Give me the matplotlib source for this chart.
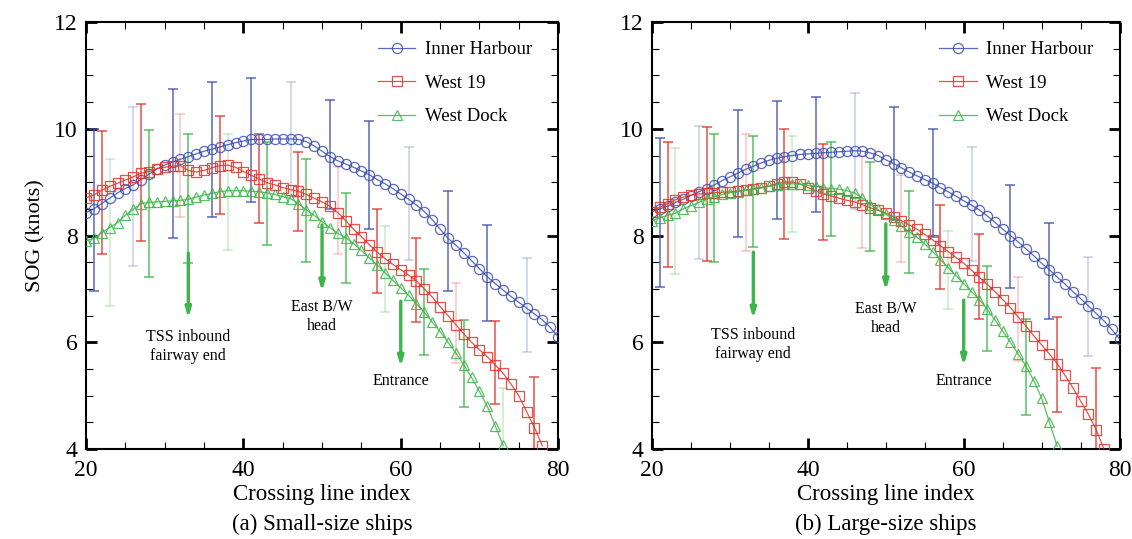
import matplotlib
matplotlib.use("Agg")
import matplotlib.pyplot as plt
from matplotlib.ticker import MultipleLocator

plt.rcParams['font.family'] = ['Liberation Serif', 'DejaVu Serif']
plt.rcParams['mathtext.fontset'] = 'stix'

# ---------------- data ----------------
x_index = list(range(20, 81))

# (a) Small-size ships
small_inner = [8.43, 8.5, 8.6, 8.7, 8.8, 8.88, 8.95, 9.05, 9.15, 9.25, 9.32, 9.38, 9.43, 9.48, 9.53,
               9.58, 9.62, 9.66, 9.7, 9.74, 9.77, 9.8, 9.8, 9.8, 9.81, 9.81, 9.81, 9.8, 9.76, 9.68,
               9.58, 9.48, 9.4, 9.34, 9.28, 9.21, 9.14, 9.05, 8.97, 8.88, 8.78, 8.68, 8.57, 8.45,
               8.3, 8.12, 7.95, 7.82, 7.68, 7.53, 7.38, 7.23, 7.1, 6.98, 6.86, 6.75, 6.64, 6.53,
               6.42, 6.28, 6.1]
small_west19 = [8.71, 8.76, 8.85, 8.92, 8.98, 9.04, 9.1, 9.17, 9.2, 9.25, 9.28, 9.3, 9.31, 9.22, 9.19,
                9.22, 9.27, 9.31, 9.32, 9.28, 9.2, 9.13, 9.06, 8.99, 8.95, 8.9, 8.86, 8.83, 8.77, 8.7,
                8.63, 8.55, 8.43, 8.28, 8.12, 7.98, 7.83, 7.69, 7.57, 7.46, 7.36, 7.26, 7.15, 7.0,
                6.85, 6.67, 6.5, 6.33, 6.16, 6.0, 5.86, 5.73, 5.58, 5.42, 5.22, 5.0, 4.7, 4.4, 4.06]
small_westdock = [7.9, 7.95, 8.05, 8.15, 8.24, 8.38, 8.49, 8.6, 8.62, 8.63, 8.64, 8.65, 8.66, 8.68,
                  8.72, 8.76, 8.79, 8.82, 8.84, 8.84, 8.84, 8.83, 8.82, 8.8, 8.77, 8.73, 8.69, 8.6,
                  8.48, 8.38, 8.26, 8.15, 8.04, 7.96, 7.85, 7.72, 7.58, 7.45, 7.3, 7.16, 7.02, 6.88,
                  6.72, 6.56, 6.38, 6.2, 6.0, 5.8, 5.58, 5.34, 5.08, 4.8, 4.44, 4.07]

# (b) Large-size ships
large_inner = [8.45, 8.5, 8.55, 8.62, 8.68, 8.75, 8.82, 8.88, 8.95, 9.03, 9.1, 9.17, 9.24, 9.3, 9.36,
               9.41, 9.45, 9.48, 9.5, 9.52, 9.53, 9.54, 9.55, 9.56, 9.57, 9.58, 9.59, 9.58, 9.55, 9.5,
               9.42, 9.35, 9.27, 9.19, 9.12, 9.05, 8.98, 8.9, 8.82, 8.74, 8.65, 8.57, 8.48, 8.37,
               8.25, 8.12, 8.0, 7.88, 7.75, 7.62, 7.48, 7.36, 7.22, 7.09, 6.95, 6.82, 6.68, 6.54,
               6.4, 6.24, 6.06]
large_west19 = [8.45, 8.53, 8.6, 8.67, 8.72, 8.76, 8.78, 8.79, 8.8, 8.81, 8.82, 8.83, 8.85, 8.87, 8.9,
                8.93, 8.97, 9.0, 9.0, 8.97, 8.9, 8.84, 8.78, 8.74, 8.7, 8.66, 8.63, 8.58, 8.52, 8.47,
                8.42, 8.35, 8.28, 8.2, 8.12, 8.02, 7.92, 7.81, 7.7, 7.59, 7.48, 7.35, 7.22, 7.09,
                6.95, 6.8, 6.65, 6.47, 6.3, 6.12, 5.95, 5.78, 5.6, 5.38, 5.15, 4.9, 4.65, 4.36, 4.0]
large_westdock = [8.28, 8.33, 8.38, 8.42, 8.5, 8.56, 8.62, 8.68, 8.73, 8.77, 8.8, 8.82, 8.85, 8.87,
                  8.89, 8.92, 8.95, 8.97, 8.97, 8.96, 8.94, 8.92, 8.9, 8.88, 8.87, 8.84, 8.8, 8.7,
                  8.58, 8.49, 8.4, 8.3, 8.18, 8.07, 7.97, 7.84, 7.7, 7.55, 7.4, 7.25, 7.1, 6.95,
                  6.8, 6.62, 6.42, 6.21, 6.0, 5.78, 5.55, 5.28, 4.95, 4.5, 4.05]

# error bars: positions, upper ends, lower ends, faint flags
small_inner_eb_x = [21, 26, 31, 36, 41, 46, 51, 56, 61, 66, 71, 76]
small_inner_eb_hi = [10.0, 10.41, 10.75, 10.88, 10.96, 10.88, 10.54, 10.14, 9.66, 8.84, 8.19, 7.57]
small_inner_eb_lo = [6.96, 7.43, 7.96, 8.34, 8.63, 8.72, 8.49, 8.13, 7.55, 6.96, 6.40, 5.81]
small_inner_eb_faint = [0, 1, 0, 0, 0, 1, 0, 0, 1, 0, 0, 1]

small_w19_eb_x = [22, 27, 32, 37, 42, 47, 52, 57, 62, 67, 72, 77]
small_w19_eb_hi = [9.96, 10.46, 10.27, 10.24, 9.91, 9.56, 9.28, 8.49, 7.96, 7.12, 6.40, 5.34]
small_w19_eb_lo = [7.65, 7.89, 8.34, 8.40, 8.23, 8.09, 7.65, 6.92, 6.38, 5.62, 4.84, 3.5]
small_w19_eb_faint = [0, 0, 1, 0, 0, 0, 1, 0, 0, 1, 0, 0]

small_wd_eb_x = [23, 28, 33, 38, 43, 48, 53, 58, 63, 68, 73]
small_wd_eb_hi = [9.43, 9.97, 9.90, 9.90, 9.75, 9.43, 8.79, 8.18, 7.37, 6.42, 5.14]
small_wd_eb_lo = [6.68, 7.22, 7.48, 7.73, 7.82, 7.51, 7.11, 6.57, 5.76, 4.78, 3.5]
small_wd_eb_faint = [1, 0, 0, 1, 0, 0, 0, 1, 0, 0, 1]

large_inner_eb_x = [21, 26, 31, 36, 41, 46, 51, 56, 61, 66, 71, 76]
large_inner_eb_hi = [9.83, 10.06, 10.36, 10.53, 10.59, 10.67, 10.40, 9.99, 9.66, 8.94, 8.24, 7.59]
large_inner_eb_lo = [7.03, 7.56, 7.97, 8.31, 8.44, 8.50, 8.30, 7.97, 7.53, 7.02, 6.43, 5.75]
large_inner_eb_faint = [0, 1, 0, 0, 0, 1, 0, 0, 1, 0, 0, 1]

large_w19_eb_x = [22, 27, 32, 37, 42, 47, 52, 57, 62, 67, 72, 77]
large_w19_eb_hi = [9.75, 10.03, 9.91, 10.0, 9.72, 9.50, 9.14, 8.58, 8.03, 7.23, 6.47, 5.52]
large_w19_eb_lo = [7.41, 7.53, 7.71, 7.94, 7.92, 7.77, 7.50, 6.99, 6.43, 5.64, 4.69, 3.5]
large_w19_eb_faint = [0, 0, 1, 0, 0, 1, 1, 0, 0, 1, 0, 0]

large_wd_eb_x = [23, 28, 33, 38, 43, 48, 53, 58, 63, 68]
large_wd_eb_hi = [9.64, 9.91, 9.87, 9.87, 9.75, 9.37, 8.84, 8.09, 7.42, 6.44]
large_wd_eb_lo = [7.27, 7.50, 7.78, 8.06, 8.00, 7.71, 7.30, 6.63, 5.84, 4.63]
large_wd_eb_faint = [1, 0, 0, 1, 0, 0, 0, 1, 0, 0]

# landmark arrows: x, start, end, label, label y
arrow_x = [33, 50, 60]
small_arrow_top = [7.67, 8.2, 6.77]
small_arrow_bot = [6.45, 6.95, 5.54]
large_arrow_top = [7.69, 8.22, 6.79]
large_arrow_bot = [6.44, 6.97, 5.56]
arrow_labels = ["TSS inbound\nfairway end", "East B/W\nhead", "Entrance"]
small_label_y = [5.93, 6.49, 5.27]
large_label_y = [5.95, 6.44, 5.28]

series_names = ["Inner Harbour", "West 19", "West Dock"]
captions = ["(a) Small-size ships", "(b) Large-size ships"]

# ---------------- style ----------------
c_blue = '#3d4fae'
c_red = '#e3332b'
c_green = '#3db54a'
markers = ['o', 's', '^']
colors = [c_blue, c_red, c_green]

fig = plt.figure(figsize=(11.32, 5.39), dpi=100)
ax1 = fig.add_axes([0.076, 0.167, 0.417, 0.792])
ax2 = fig.add_axes([0.576, 0.167, 0.413, 0.792])


def draw_panel(ax, series, ebs, atop, abot, lab_y, caption, ylabel):
    for (xs, hi, lo, faint), col in zip(ebs, colors):
        for xi, h, l, f in zip(xs, hi, lo, faint):
            ax.errorbar([xi], [(h + l) / 2], yerr=[[(h - l) / 2], [(h - l) / 2]], fmt='none',
                        ecolor=col, elinewidth=1.1, capsize=3.5, capthick=1.1,
                        alpha=0.28 if f else 0.85, zorder=2)
    for ys, name, mk, col in zip(series, series_names, markers, colors):
        ax.plot(x_index[:len(ys)], ys, marker=mk, ms=7.3 if mk != '^' else 7.8, mfc='none',
                mec=col, mew=0.9, color=col, lw=0.9, alpha=0.85, label=name, zorder=3)
    for xa, t, b, lab, ly in zip(arrow_x, atop, abot, arrow_labels, lab_y):
        ax.annotate('', xy=(xa, b), xytext=(xa, t),
                    arrowprops=dict(arrowstyle='-|>,head_length=0.55,head_width=0.16',
                                    color=c_green, lw=2.4, shrinkA=0, shrinkB=0), zorder=4)
        ax.text(xa, ly, lab, ha='center', va='center', fontsize=11.5, linespacing=1.25, zorder=5)
    ax.set_xlim(20, 80)
    ax.set_ylim(4, 12)
    ax.xaxis.set_major_locator(MultipleLocator(20))
    ax.xaxis.set_minor_locator(MultipleLocator(5))
    ax.yaxis.set_major_locator(MultipleLocator(2))
    ax.yaxis.set_minor_locator(MultipleLocator(0.5))
    ax.tick_params(which='both', direction='in', top=True, right=True, labelsize=17)
    ax.tick_params(which='major', length=8, width=2)
    ax.tick_params(which='minor', length=5, width=0.8)
    ax.tick_params(axis='x', pad=8)
    ax.tick_params(axis='y', pad=6)
    for s in ax.spines.values():
        s.set_linewidth(1.5)
    ax.set_xlabel("Crossing line index\n" + caption, fontsize=16.5, linespacing=1.55, labelpad=2)
    if ylabel:
        ax.set_ylabel("SOG (knots)", fontsize=16, labelpad=6)
    ax.legend(loc='upper right', bbox_to_anchor=(1.0, 1.017), frameon=False, fontsize=13.5,
              handlelength=2.0, labelspacing=0.88, borderaxespad=1.0, handletextpad=0.5)


draw_panel(ax1, [small_inner, small_west19, small_westdock],
           [(small_inner_eb_x, small_inner_eb_hi, small_inner_eb_lo, small_inner_eb_faint),
            (small_w19_eb_x, small_w19_eb_hi, small_w19_eb_lo, small_w19_eb_faint),
            (small_wd_eb_x, small_wd_eb_hi, small_wd_eb_lo, small_wd_eb_faint)],
           small_arrow_top, small_arrow_bot, small_label_y, captions[0], True)
draw_panel(ax2, [large_inner, large_west19, large_westdock],
           [(large_inner_eb_x, large_inner_eb_hi, large_inner_eb_lo, large_inner_eb_faint),
            (large_w19_eb_x, large_w19_eb_hi, large_w19_eb_lo, large_w19_eb_faint),
            (large_wd_eb_x, large_wd_eb_hi, large_wd_eb_lo, large_wd_eb_faint)],
           large_arrow_top, large_arrow_bot, large_label_y, captions[1], False)

fig.savefig("out.png", dpi=100)
